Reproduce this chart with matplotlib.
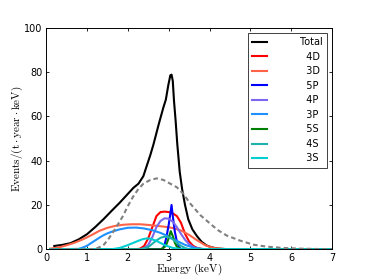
import matplotlib
matplotlib.use("Agg")
import matplotlib.pyplot as plt

plt.rcParams['mathtext.fontset'] = 'cm'
plt.rcParams['font.family'] = ['DejaVu Sans']

# ---- data ----
total_E = [0.2, 0.4, 0.6, 0.8, 1.0, 1.2, 1.4, 1.6, 1.8, 2.0, 2.14, 2.26, 2.38, 2.46, 2.55, 2.63,
           2.75, 2.87, 2.93, 2.99, 3.04, 3.07, 3.1, 3.13, 3.17, 3.21, 3.27, 3.33, 3.4, 3.48,
           3.58, 3.69, 3.8, 3.92, 4.05, 4.2, 4.4, 4.7, 5.0, 6.0, 7.0]
total_v = [1.5, 2.0, 2.8, 4.5, 6.8, 10.0, 13.5, 17.3, 21.0, 25.0, 27.8, 29.6, 33.0, 37.5, 42.5, 47.5,
           56.0, 64.0, 67.5, 74.0, 78.5, 78.8, 76.0, 67.0, 58.0, 47.6, 35.0, 27.0, 20.0, 13.5,
           9.0, 6.0, 3.5, 1.8, 0.9, 0.35, 0.1, 0.0, 0.0, 0.0, 0.0]

bkg_E = [0.1, 1.1, 1.25, 1.4, 1.52, 1.63, 1.75, 1.88, 2.0, 2.12, 2.25, 2.38, 2.55, 2.71, 2.87, 3.03,
         3.2, 3.36, 3.52, 3.77, 3.97, 4.2, 4.42, 4.75, 5.07, 5.4, 5.8, 6.2, 6.6, 7.0]
bkg_v = [0.0, 0.0, 0.5, 1.8, 4.5, 7.5, 11.0, 15.0, 19.5, 23.5, 27.0, 29.6, 31.3, 32.0, 31.3, 29.7,
         28.0, 25.0, 20.8, 15.5, 12.3, 8.7, 6.2, 3.9, 2.1, 1.2, 0.6, 0.3, 0.15, 0.0]

d4_E = [0.1, 2.2, 2.3, 2.4, 2.5, 2.6, 2.7, 2.8, 2.9, 3.0, 3.1, 3.2, 3.3, 3.4, 3.5, 3.6, 3.7, 3.8, 3.9, 7.0]
d4_v = [0.0, 0.0, 0.3, 1.5, 5.0, 10.0, 15.0, 16.8, 17.0, 16.8, 16.2, 15.0, 12.0, 7.0, 3.5, 1.5, 0.6, 0.2, 0.0, 0.0]

d3_E = [0.1, 0.3, 0.5, 0.7, 0.9, 1.1, 1.3, 1.5, 1.7, 1.9, 2.1, 2.3, 2.5, 2.7, 2.9, 3.1, 3.3, 3.5,
        3.7, 3.9, 4.1, 4.3, 4.5, 7.0]
d3_v = [0.3, 0.8, 1.8, 3.0, 4.5, 6.3, 8.3, 9.7, 10.6, 11.1, 11.3, 11.3, 11.0, 10.6, 10.2, 9.6, 8.5,
        6.5, 4.0, 1.8, 0.6, 0.2, 0.0, 0.0]

p5_E = [0.1, 2.85, 2.9, 2.95, 3.0, 3.04, 3.07, 3.1, 3.15, 3.2, 3.25, 3.3, 7.0]
p5_v = [0.0, 0.0, 2.0, 6.0, 11.0, 16.0, 20.0, 15.0, 8.0, 3.5, 1.0, 0.0, 0.0]

p4_E = [0.1, 2.3, 2.4, 2.5, 2.6, 2.7, 2.8, 2.9, 3.0, 3.1, 3.2, 3.3, 3.4, 3.5, 3.6, 3.7, 3.8, 3.9, 7.0]
p4_v = [0.0, 0.0, 0.5, 2.0, 5.5, 10.0, 12.8, 14.0, 13.8, 12.5, 10.0, 7.0, 4.3, 2.3, 1.0, 0.4, 0.1, 0.0, 0.0]

p3_E = [0.1, 0.8, 0.9, 1.0, 1.1, 1.2, 1.3, 1.4, 1.5, 1.6, 1.8, 2.0, 2.2, 2.4, 2.6, 2.8, 3.0, 3.2,
        3.4, 3.6, 3.8, 4.0, 7.0]
p3_v = [0.0, 0.2, 0.8, 1.6, 2.8, 4.0, 5.2, 6.3, 7.2, 7.9, 9.0, 9.7, 9.8, 9.4, 8.6, 7.4, 5.8, 3.8,
        2.0, 0.8, 0.2, 0.0, 0.0]

s5_E = [0.1, 2.8, 2.9, 2.95, 3.0, 3.05, 3.1, 3.15, 3.2, 3.3, 7.0]
s5_v = [0.0, 0.0, 1.0, 2.5, 5.0, 8.2, 6.0, 3.0, 1.2, 0.0, 0.0]

s4_E = [0.1, 2.3, 2.5, 2.6, 2.7, 2.8, 2.9, 3.0, 3.1, 3.2, 3.3, 3.4, 3.5, 7.0]
s4_v = [0.0, 0.0, 1.0, 2.5, 4.0, 5.2, 5.7, 5.5, 4.5, 3.0, 1.5, 0.6, 0.0, 0.0]

s3_E = [0.1, 1.6, 1.8, 2.0, 2.2, 2.35, 2.45, 2.55, 2.7, 2.9, 3.1, 3.3, 3.5, 7.0]
s3_v = [0.0, 0.0, 0.6, 1.9, 3.4, 4.5, 4.9, 4.8, 3.8, 1.9, 0.6, 0.1, 0.0, 0.0]

labels = ["Total", "4D", "3D", "5P", "4P", "3P", "5S", "4S", "3S"]
xticks = [0, 1, 2, 3, 4, 5, 6, 7]
yticks = [0, 20, 40, 60, 80, 100]

# ---- figure ----
fig = plt.figure(figsize=(3.69, 2.77), dpi=100)
ax = fig.add_axes([0.125, 0.1, 0.775, 0.8])
lw = 1.5
pad_labels = ["        " + labels[0]] + ["          " + l for l in labels[1:]]

series = [
    (total_E, total_v, "black"),
    (d4_E, d4_v, "red"),
    (d3_E, d3_v, "tomato"),
    (p5_E, p5_v, "blue"),
    (p4_E, p4_v, "mediumslateblue"),
    (p3_E, p3_v, "dodgerblue"),
    (s5_E, s5_v, "green"),
    (s4_E, s4_v, "lightseagreen"),
    (s3_E, s3_v, "darkturquoise"),
]
handles = []
for (E, v, c), lab in zip(series, pad_labels):
    h, = ax.plot(E, v, color=c, lw=lw, label=lab, solid_joinstyle='round')
    handles.append(h)
ax.plot(bkg_E, bkg_v, color="gray", lw=lw, linestyle=(0, (2.2, 1.5)))

ax.set_xlim(0, 7)
ax.set_ylim(0, 100)
ax.set_xticks(xticks)
ax.set_yticks(yticks)
ax.tick_params(direction='in', length=2.0, width=0.6, labelsize=7, pad=2.5,
               top=True, right=True)
for s in ax.spines.values():
    s.set_linewidth(0.7)
ax.set_xlabel(r"$\mathrm{Energy\ (keV)}$", fontsize=8)
ax.xaxis.set_label_coords(0.5, -0.058)
ax.xaxis.label.set_va('top')
ax.set_ylabel(r"$\mathrm{Events/(t\cdot year\cdot keV)}$", fontsize=8)
ax.yaxis.set_label_coords(-0.102, 0.5)
ax.yaxis.label.set_va('center')

leg = ax.legend(handles=handles, loc='upper right', fontsize=7, handlelength=1.55,
                handletextpad=0.8, labelspacing=0.47, borderpad=0.45, borderaxespad=0.5,
                fancybox=False, framealpha=1)
leg.get_frame().set_edgecolor('0.25')
leg.get_frame().set_linewidth(0.7)

fig.savefig("out.png", dpi=100, facecolor="white")
